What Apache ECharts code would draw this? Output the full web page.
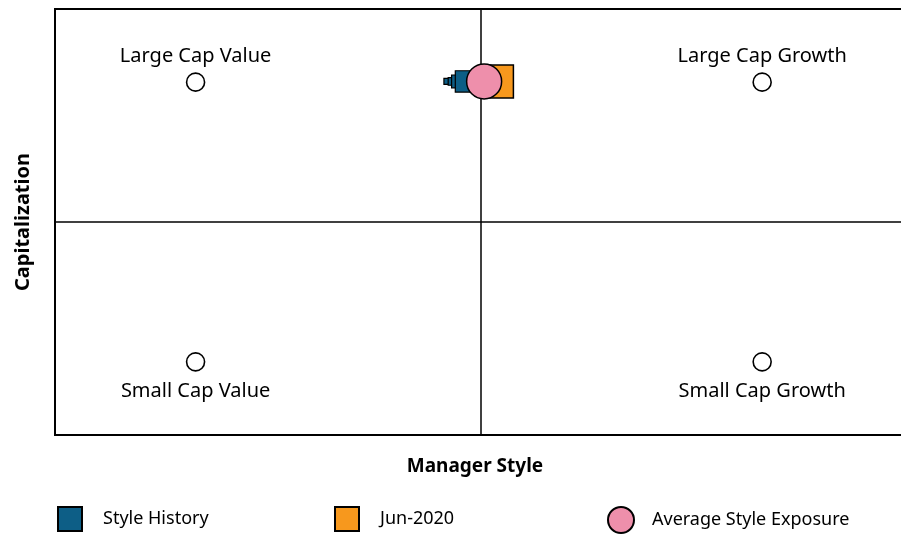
<!DOCTYPE html>
<html>
<head>
<meta charset="utf-8">
<script src="https://cdn.jsdelivr.net/npm/echarts@6/dist/echarts.min.js"></script>
<style>
  html, body { margin: 0; padding: 0; background: #fff; }
  #chart { width: 901px; height: 534px; }
</style>
</head>
<body>
<div id="chart"></div>
<script>
// quadrant corners
const cornerNames = ['Large Cap Value', 'Large Cap Growth', 'Small Cap Value', 'Small Cap Growth'];
const cornerX = [-1.005, 0.99, -1.005, 0.99];
const cornerY = [0.985, 0.985, -0.985, -0.985];

// style history trail (oldest first)
const historyX = [-0.12, -0.102, -0.081, -0.053];
const historyY = [0.99, 0.99, 0.99, 0.99];

// latest quarter
const currentLabel = 'Jun-2020';
const currentX = [0.056];
const currentY = [0.99];

// average exposure
const avgX = [0.011];
const avgY = [0.99];

const font = '"Noto Sans", "Open Sans", sans-serif';

const chart = echarts.init(document.getElementById('chart'));

const zip = (xs, ys) => xs.map((x, i) => [x, ys[i]]);

const axisCommon = {
    type: 'value',
    min: -1.5,
    max: 1.5,
    interval: 1.5,
    axisLine: { show: false },
    axisTick: { show: false },
    axisLabel: { show: false },
    splitLine: { show: true, lineStyle: { color: '#000', width: 1.5 } }
};

const legendCommon = {
    top: 506,
    padding: 0,
    itemWidth: 24,
    itemHeight: 24,
    textStyle: { fontFamily: font, fontSize: 18, color: '#000', padding: [0, 0, 0, 16] },
    selectedMode: false
};

const option = {
    animation: false,
    backgroundColor: '#fff',
    grid: {
        left: 55,
        top: 9,
        width: 852,
        height: 426,
        outerBoundsMode: 'none',
        show: true,
        borderColor: '#000',
        borderWidth: 2
    },
    xAxis: Object.assign({}, axisCommon, {
        name: 'Manager Style',
        nameLocation: 'middle',
        nameGap: 22,
        nameTextStyle: { fontFamily: font, fontSize: 19, fontWeight: 'bold', color: '#000', padding: [0, 12, 0, 0] }
    }),
    yAxis: Object.assign({}, axisCommon, {
        name: 'Capitalization',
        nameLocation: 'middle',
        nameGap: 22,
        nameTextStyle: { fontFamily: font, fontSize: 20, fontWeight: 'bold', color: '#000' }
    }),
    legend: [
        Object.assign({}, legendCommon, { left: 57, data: [{ name: 'Style History', icon: 'rect' }] }),
        Object.assign({}, legendCommon, { left: 334, data: [{ name: currentLabel, icon: 'rect' }] }),
        Object.assign({}, legendCommon, {
            left: 607, itemWidth: 28, itemHeight: 26,
            textStyle: Object.assign({}, legendCommon.textStyle, { padding: [0, 0, 0, 12] }),
            data: [{ name: 'Average Style Exposure', icon: 'circle' }]
        })
    ],
    series: [
        {
            type: 'scatter',
            name: 'corners',
            symbol: 'circle',
            symbolSize: 18,
            z: 2,
            itemStyle: { color: '#fff', borderColor: '#000', borderWidth: 1.6, opacity: 1 },
            data: cornerNames.map((n, i) => ({
                name: n,
                value: [cornerX[i], cornerY[i]],
                label: {
                    show: true,
                    formatter: n,
                    position: cornerY[i] > 0 ? 'top' : 'bottom',
                    distance: cornerY[i] > 0 ? 6 : 10,
                    fontFamily: font,
                    fontSize: 20,
                    color: '#000'
                }
            }))
        },
        {
            type: 'scatter',
            name: 'Style History',
            symbol: 'rect',
            symbolSize: (v, p) => 6 + 1.7 * p.dataIndex * p.dataIndex,
            z: 3,
            itemStyle: { color: '#0d5e86', borderColor: '#000', borderWidth: 1.2, opacity: 1 },
            data: zip(historyX, historyY)
        },
        {
            type: 'scatter',
            name: currentLabel,
            symbol: 'rect',
            symbolSize: 33,
            z: 4,
            itemStyle: { color: '#f7981d', borderColor: '#000', borderWidth: 1.5, opacity: 1 },
            data: zip(currentX, currentY)
        },
        {
            type: 'scatter',
            name: 'Average Style Exposure',
            symbol: 'circle',
            symbolSize: 35,
            z: 5,
            itemStyle: { color: '#ee8fab', borderColor: '#000', borderWidth: 1.5, opacity: 1 },
            data: zip(avgX, avgY)
        }
    ]
};

chart.setOption(option);
</script>
</body>
</html>
